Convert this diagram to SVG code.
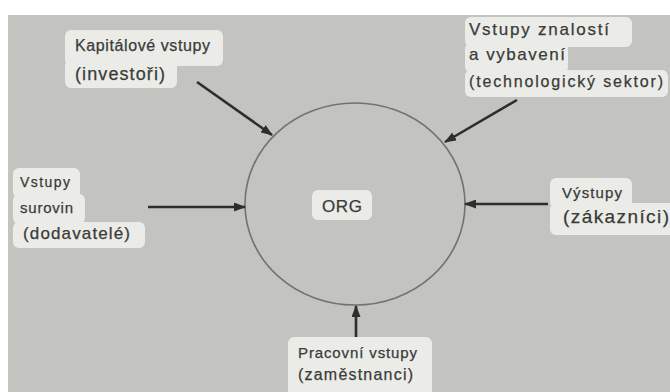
<svg xmlns="http://www.w3.org/2000/svg" width="670" height="392" viewBox="0 0 670 392">
<defs>
<style>
.bg{fill:#c3c4c0}
.box{fill:#ebece8}
.t{font-family:"Liberation Sans",Arial,sans-serif;fill:#3a3b39;stroke:#3a3b39;stroke-width:0.25}
.org{fill:none;stroke:#727370;stroke-width:1.6}
.arr{stroke:#2e2f2d;stroke-width:2.6;fill:none;marker-end:url(#ah)}
</style>
<marker id="ah" markerUnits="userSpaceOnUse" markerWidth="12" markerHeight="9" refX="11" refY="4.5" orient="auto">
<path d="M0,0 L12,4.5 L0,9 z" fill="#2e2f2d"/>
</marker>
</defs>
<rect width="670" height="392" fill="#ffffff"/>
<rect class="bg" x="8" y="15" width="662" height="377"/>

<g id="org">
<ellipse class="org" cx="355" cy="204" rx="110" ry="101"/>
<rect class="box" x="312" y="190" width="60" height="30" rx="6"/>
<text class="t" x="322" y="212" font-size="17" textLength="40" lengthAdjust="spacing">ORG</text>
</g>

<g id="kapitalove">
<rect class="box" x="65" y="30" width="158" height="36" rx="6"/>
<rect class="box" x="65" y="60" width="112" height="28" rx="6"/>
<text class="t" x="75" y="51" font-size="16" textLength="135" lengthAdjust="spacing">Kapitálové vstupy</text>
<text class="t" x="75" y="80" font-size="18" textLength="90" lengthAdjust="spacing">(investoři)</text>
</g>

<g id="znalosti">
<rect class="box" x="465" y="17" width="167" height="30" rx="6"/>
<rect class="box" x="465" y="43" width="103" height="30" rx="6"/>
<rect class="box" x="465" y="70" width="203" height="27" rx="6"/>
<text class="t" x="469" y="35" font-size="17" textLength="140" lengthAdjust="spacing">Vstupy znalostí</text>
<text class="t" x="469" y="60" font-size="17" textLength="96" lengthAdjust="spacing">a vybavení</text>
<text class="t" x="469" y="87" font-size="16" textLength="194" lengthAdjust="spacing">(technologický sektor)</text>
</g>

<g id="suroviny">
<rect class="box" x="13" y="168" width="67" height="30" rx="6"/>
<rect class="box" x="13" y="194" width="72" height="30" rx="6"/>
<rect class="box" x="13" y="222" width="132" height="26" rx="6"/>
<text class="t" x="20" y="187" font-size="14" textLength="50" lengthAdjust="spacing">Vstupy</text>
<text class="t" x="20" y="213" font-size="15" textLength="53" lengthAdjust="spacing">surovin</text>
<text class="t" x="23" y="239" font-size="17" textLength="107" lengthAdjust="spacing">(dodavatelé)</text>
</g>

<g id="vystupy">
<rect class="box" x="550" y="178" width="82" height="30" rx="6"/>
<rect class="box" x="550" y="203" width="126" height="32" rx="6"/>
<text class="t" x="562" y="198" font-size="15" textLength="60" lengthAdjust="spacing">Výstupy</text>
<text class="t" x="563" y="223" font-size="19" textLength="106" lengthAdjust="spacing">(zákazníci)</text>
</g>

<g id="pracovni">
<rect class="box" x="288" y="337" width="144" height="62" rx="6"/>
<text class="t" x="298" y="358" font-size="15" textLength="119" lengthAdjust="spacing">Pracovní vstupy</text>
<text class="t" x="298" y="380" font-size="16" textLength="115" lengthAdjust="spacing">(zaměstnanci)</text>
</g>

<g id="connectors">
<line class="arr" x1="197" y1="82" x2="272" y2="135"/>
<line class="arr" x1="517" y1="100" x2="445" y2="142"/>
<line class="arr" x1="148" y1="207" x2="245" y2="207"/>
<line class="arr" x1="548" y1="204" x2="465" y2="204"/>
<line class="arr" x1="356" y1="337" x2="356" y2="306"/>
</g>
</svg>
